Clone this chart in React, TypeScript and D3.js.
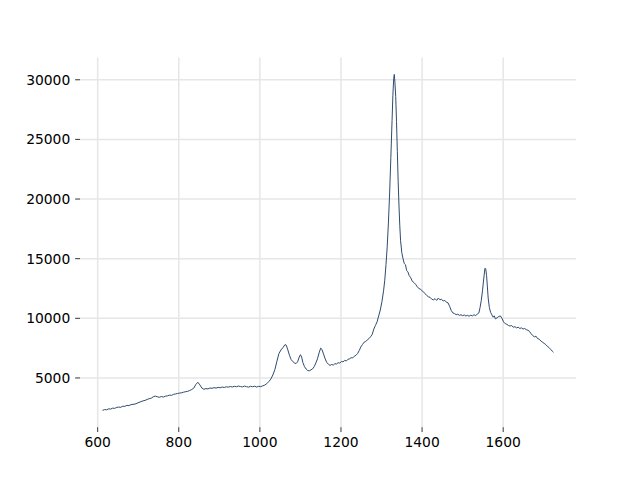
import React from "react";
import * as d3 from "d3";

const wavenumber: number[] = [
  612, 617, 622, 627, 632, 637, 642, 647, 652, 657, 662, 667, 672, 677, 682, 687, 692, 697, 702, 707,
  712, 717, 722, 727, 732, 737, 742, 747, 752, 757, 762, 767, 772, 777, 782, 787, 792, 797, 802, 807,
  812, 817, 822, 827, 832, 837, 842, 847, 852, 857, 862, 867, 872, 877, 882, 887, 892, 897, 902, 907,
  912, 917, 922, 927, 932, 937, 942, 947, 952, 957, 962, 967, 972, 977, 982, 987, 992, 997, 1002, 1007,
  1012, 1017, 1022, 1027, 1032, 1037, 1042, 1047, 1052, 1057, 1062, 1065, 1069, 1073, 1077, 1081, 1085, 1089, 1093, 1097,
  1100, 1103, 1106, 1110, 1114, 1118, 1122, 1126, 1130, 1134, 1138, 1142, 1146, 1150, 1153, 1157, 1161, 1165, 1169, 1173,
  1177, 1181, 1185, 1189, 1193, 1197, 1201, 1205, 1209, 1213, 1217, 1221, 1225, 1229, 1233, 1237, 1241, 1245, 1249, 1253,
  1257, 1261, 1265, 1269, 1273, 1277, 1281, 1285, 1289, 1293, 1297, 1301, 1305, 1308, 1311, 1314, 1317, 1320, 1323, 1326,
  1328, 1330, 1331.5, 1333, 1335, 1337, 1339, 1341, 1343, 1345, 1347, 1350, 1353, 1356, 1359, 1362, 1365, 1368, 1372, 1376,
  1380, 1384, 1388, 1392, 1396, 1400, 1404, 1408, 1412, 1416, 1420, 1424, 1428, 1432, 1436, 1440, 1444, 1448, 1452, 1456,
  1460, 1464, 1468, 1472, 1476, 1480, 1484, 1488, 1492, 1496, 1500, 1504, 1508, 1512, 1516, 1520, 1524, 1528, 1532, 1536,
  1540, 1543, 1546, 1549, 1552, 1555, 1557, 1559, 1561, 1563, 1566, 1569, 1572, 1575, 1578, 1581, 1585, 1589, 1593, 1597,
  1601, 1605, 1609, 1613, 1617, 1621, 1625, 1629, 1633, 1637, 1641, 1645, 1649, 1653, 1657, 1661, 1665, 1669, 1673, 1677,
  1681, 1685, 1689, 1693, 1697, 1701, 1705, 1709, 1713, 1717, 1721, 1724,
];

const intensity: number[] = [
  2280, 2350, 2330, 2410, 2390, 2470, 2450, 2530, 2560, 2540, 2630, 2620, 2700, 2680, 2760, 2790, 2810, 2880, 2950, 3020,
  3080, 3120, 3200, 3260, 3300, 3420, 3480, 3420, 3380, 3440, 3400, 3470, 3500, 3560, 3540, 3620, 3660, 3700, 3730, 3760,
  3810, 3850, 3880, 3950, 4030, 4150, 4450, 4640, 4420, 4150, 4050, 4110, 4080, 4160, 4130, 4190, 4150, 4210, 4180, 4240,
  4200, 4260, 4230, 4280, 4240, 4300, 4260, 4320, 4280, 4250, 4320, 4270, 4230, 4300, 4260, 4310, 4240, 4300, 4270, 4340,
  4400, 4520, 4700, 4900, 5250, 5700, 6400, 7050, 7350, 7550, 7800, 7750, 7350, 6900, 6550, 6380, 6270, 6200, 6350, 6750,
  6950, 6750, 6300, 5950, 5750, 5620, 5600, 5680, 5760, 5950, 6250, 6600, 7100, 7500, 7400, 7000, 6600, 6300, 6150, 6050,
  6130, 6080, 6200, 6170, 6280, 6240, 6380, 6350, 6470, 6420, 6560, 6600, 6700, 6680, 6820, 6900, 7050, 7300, 7600, 7800,
  8000, 8050, 8200, 8300, 8450, 8650, 9100, 9400, 9700, 10200, 10700, 11400, 12300, 13200, 14500, 16000, 18000, 20500, 23500, 26600,
  28700, 30100, 30450, 29800, 28600, 26500, 24000, 21500, 19500, 17800, 16500, 15500, 15000, 14600, 14500, 14000, 13900, 13600, 13400, 13100,
  13000, 12850, 12650, 12500, 12450, 12300, 12200, 12050, 11900, 11800, 11750, 11600, 11550, 11650, 11500, 11700, 11550, 11600, 11450, 11500,
  11350, 11300, 11000, 10650, 10450, 10400, 10300, 10350, 10250, 10300, 10220, 10280, 10200, 10250, 10180, 10260, 10200, 10300, 10230, 10350,
  10450, 10900, 11500, 12300, 13300, 14200, 14150, 13600, 12700, 11700, 10900, 10500, 10300, 10100, 10200, 9950, 10050, 10150, 10200, 10000,
  9700, 9550, 9500, 9400, 9350, 9400, 9250, 9300, 9200, 9250, 9150, 9200, 9100, 9150, 9050, 9000, 8900, 8700, 8550, 8450,
  8500, 8300, 8250, 8100, 8000, 7900, 7800, 7650, 7550, 7400, 7250, 7150,
];

const xTicks: number[] = [600, 800, 1000, 1200, 1400, 1600];
const yTicks: number[] = [5000, 10000, 15000, 20000, 25000, 30000];

const W = 640;
const H = 480;
const M = { left: 80, right: 576, top: 57.6, bottom: 427.2 };

export default function App() {
  const [xMin, xMax] = d3.extent(wavenumber) as [number, number];
  const [yMin, yMax] = d3.extent(intensity) as [number, number];
  const xPad = (xMax - xMin) * 0.05;
  const yPad = (yMax - yMin) * 0.05;
  const x = d3.scaleLinear().domain([xMin - xPad, xMax + xPad]).range([M.left, M.right]);
  const y = d3.scaleLinear().domain([yMin - yPad, yMax + yPad]).range([M.bottom, M.top]);
  const pts: [number, number][] = wavenumber.map((w, i) => [w, intensity[i]]);
  const line = d3
    .line<[number, number]>()
    .x((d) => x(d[0]))
    .y((d) => y(d[1]));
  const tickLen = 4.86;
  const fs = 13.89;
  return (
    <svg
      width={W}
      height={H}
      style={{ position: "fixed", left: 0, top: 0, background: "#fff" }}
      fontFamily="DejaVu Sans"
    >
      <rect x={0} y={0} width={W} height={H} fill="#fff" />
      {xTicks.map((t) => (
        <line key={"gx" + t} x1={x(t)} x2={x(t)} y1={M.top} y2={M.bottom} stroke="#e6e6e6" strokeWidth={1.5} />
      ))}
      {yTicks.map((t) => (
        <line key={"gy" + t} x1={M.left} x2={M.right} y1={y(t)} y2={y(t)} stroke="#e6e6e6" strokeWidth={1.5} />
      ))}
      <path d={line(pts) || ""} fill="none" stroke="#2f4b6e" strokeWidth={1} strokeLinejoin="round" />
      {xTicks.map((t) => (
        <g key={"tx" + t}>
          <line x1={x(t)} x2={x(t)} y1={M.bottom} y2={M.bottom + tickLen} stroke="#000" strokeWidth={0.8} />
          <text x={x(t)} y={M.bottom + tickLen + 4.86} dy="0.76em" textAnchor="middle" fontSize={fs} fill="#000">
            {t}
          </text>
        </g>
      ))}
      {yTicks.map((t) => (
        <g key={"ty" + t}>
          <line x1={M.left - tickLen} x2={M.left} y1={y(t)} y2={y(t)} stroke="#000" strokeWidth={0.8} />
          <text x={M.left - tickLen - 4.86} y={y(t)} dy="0.36em" textAnchor="end" fontSize={fs} fill="#000">
            {t}
          </text>
        </g>
      ))}
    </svg>
  );
}
